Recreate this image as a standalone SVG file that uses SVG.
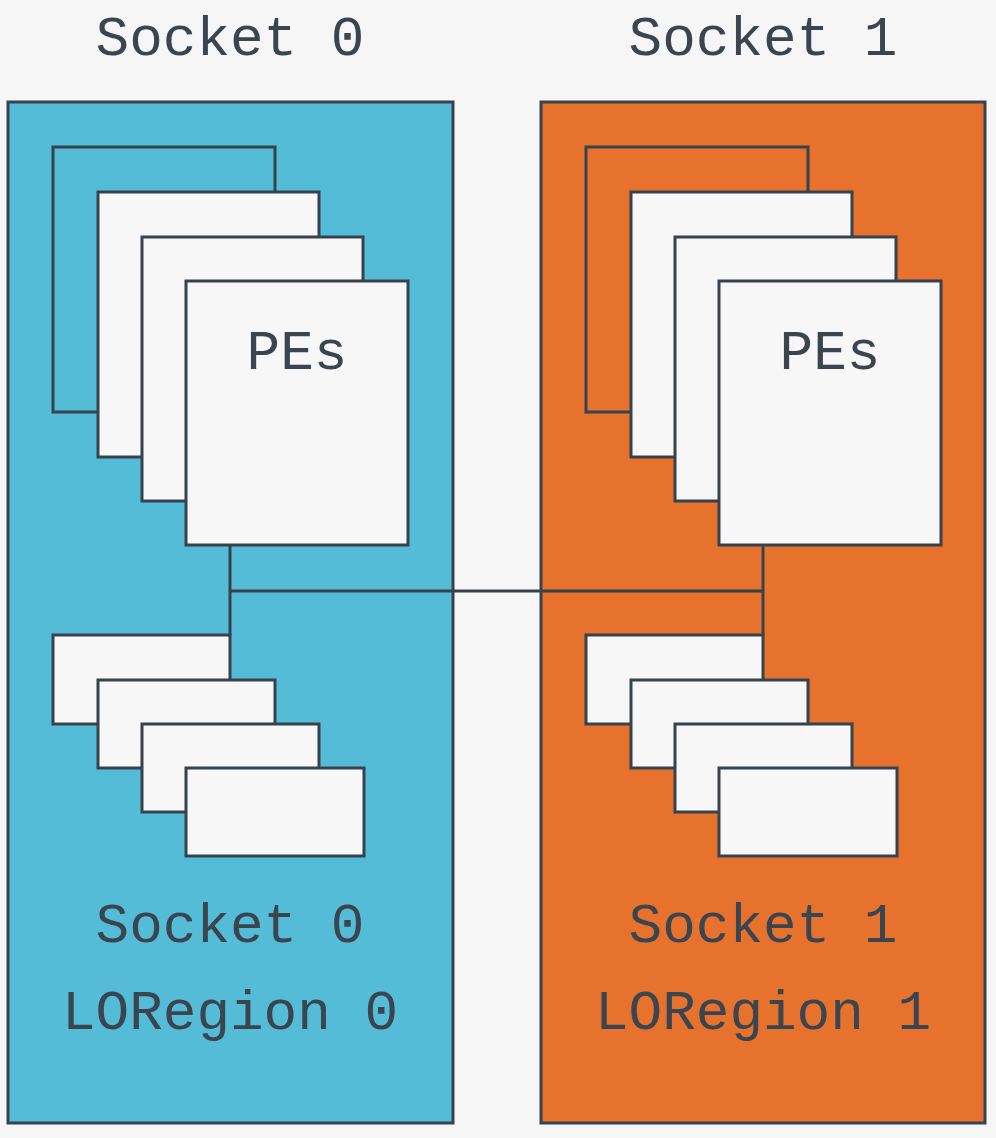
<svg xmlns="http://www.w3.org/2000/svg" width="996" height="1138" viewBox="0 0 996 1138">
<style>
.bg{fill:#f6f6f6}
.s{stroke:#36424d;stroke-width:3}
.blue{fill:#55bcd7}
.orange{fill:#e7722e}
.card{fill:#f7f7f7;stroke:#36424d;stroke-width:3}
.ghost{fill:none;stroke:#36424d;stroke-width:3}
.t{font-family:"Liberation Mono","Courier New",monospace;font-size:56px;fill:#3a4550;text-anchor:middle}
.conn{fill:none;stroke:#36424d;stroke-width:3}
</style>
<rect class="bg" x="0" y="0" width="996" height="1138"/>
<g id="label-socket0-top"><text class="t" x="230" y="55">Socket 0</text></g>
<g id="label-socket1-top"><text class="t" x="763" y="55">Socket 1</text></g>
<g id="socket0">
<rect class="blue s" x="8" y="102" width="445" height="1021"/>
<g id="pes0">
<rect class="ghost" x="53" y="147" width="222" height="265"/>
<rect class="card" x="98" y="192" width="221" height="265"/>
<rect class="card" x="142" y="237" width="221" height="264"/>
<rect class="card" x="186" y="281" width="222" height="264"/>
<text class="t" x="297" y="369">PEs</text>
</g>
<g id="mem0">
<rect class="card" x="53" y="635" width="177" height="89"/>
<rect class="card" x="98" y="680" width="177" height="88"/>
<rect class="card" x="142" y="724" width="177" height="88"/>
<rect class="card" x="186" y="768" width="178" height="88"/>
</g>
<text class="t" x="230" y="942">Socket 0</text>
<text class="t" x="230" y="1029">LORegion 0</text>
</g>
<g id="socket1">
<rect class="orange s" x="541" y="102" width="444" height="1021"/>
<g id="pes1">
<rect class="ghost" x="586" y="147" width="222" height="265"/>
<rect class="card" x="631" y="192" width="221" height="265"/>
<rect class="card" x="675" y="237" width="221" height="264"/>
<rect class="card" x="719" y="281" width="222" height="264"/>
<text class="t" x="830" y="369">PEs</text>
</g>
<g id="mem1">
<rect class="card" x="586" y="635" width="177" height="89"/>
<rect class="card" x="631" y="680" width="177" height="88"/>
<rect class="card" x="675" y="724" width="177" height="88"/>
<rect class="card" x="719" y="768" width="178" height="88"/>
</g>
<text class="t" x="763" y="942">Socket 1</text>
<text class="t" x="763" y="1029">LORegion 1</text>
</g>
<g id="connectors">
<path class="conn" d="M230,545 V635"/>
<path class="conn" d="M763,545 V635"/>
<path class="conn" d="M230,591 H763"/>
</g>
</svg>
